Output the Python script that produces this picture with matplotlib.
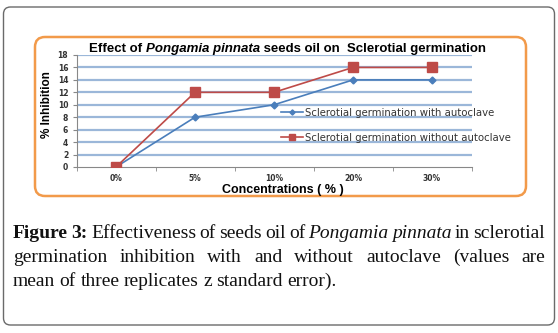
import matplotlib
matplotlib.use("Agg")
import matplotlib.pyplot as plt
from matplotlib.patches import FancyBboxPatch
from matplotlib.transforms import IdentityTransform

W, H = 558, 333

# --- data ---
concentrations = ["0%", "5%", "10%", "20%", "30%"]
with_autoclave = [0, 8, 10, 14, 14]
without_autoclave = [0, 12, 12, 16, 16]
y_ticks = [0, 2, 4, 6, 8, 10, 12, 14, 16, 18]

series_labels = ["Sclerotial germination with autoclave",
                 "Sclerotial germination without autoclave"]

title_parts = [("Effect of ", "normal"), ("Pongamia pinnata", "italic"),
               (" seeds oil on  Sclerotial germination", "normal")]

caption_lines = [
    [("Figure", "bold"), ("3:", "bold"), ("Effectiveness", ""), ("of", ""),
     ("seeds", ""), ("oil", ""), ("of", ""), ("Pongamia", "italic"),
     ("pinnata", "italic"), ("in", ""), ("sclerotial", "")],
    [("germination", ""), ("inhibition", ""), ("with", ""), ("and", ""),
     ("without", ""), ("autoclave", ""), ("(values", ""), ("are", "")],
    [("mean", ""), ("of", ""), ("three", ""), ("replicates", ""), ("z", ""),
     ("standard", ""), ("error).", "")],
]

BLUE = "#4a7ebb"
RED = "#be4b48"
GRID = "#9bb7d9"
ORANGE = "#f29a4a"


def fx(x):
    return x / W


def fy(y):
    return 1 - y / H


fig = plt.figure(figsize=(W / 100, H / 100), dpi=100)
renderer = fig.canvas.get_renderer()

# outer grey frame and orange chart frame (pixel coords, origin bottom-left)
fig.patches.append(FancyBboxPatch((3.5, H - 325), 551, 318,
                                  boxstyle="round,pad=0,rounding_size=7",
                                  transform=IdentityTransform(), figure=fig,
                                  fc="none", ec="#6a6a6a", lw=1.0, zorder=0))
fig.patches.append(FancyBboxPatch((35, H - 196), 491, 159,
                                  boxstyle="round,pad=0,rounding_size=10",
                                  transform=IdentityTransform(), figure=fig,
                                  fc="none", ec=ORANGE, lw=1.8, zorder=0))

left, right, top, bottom = 76.5, 471.5, 55, 167
ax = fig.add_axes([fx(left), fy(bottom), fx(right) - fx(left), (bottom - top) / H])
ax.set_facecolor("none")
ax.set_zorder(2)

x = range(len(concentrations))
ax.plot(x, with_autoclave, color=BLUE, lw=1.2, marker="D", ms=3.5,
        label=series_labels[0], zorder=3)
ax.plot(x, without_autoclave, color=RED, lw=1.2, marker="s", ms=6.5,
        label=series_labels[1], zorder=4)

ax.set_xlim(-0.5, len(concentrations) - 0.5)
ax.set_ylim(0, 18)
ax.set_yticks(y_ticks)
ax.set_yticklabels([str(t) for t in y_ticks], fontsize=5.5, fontweight="bold",
                   color="#333333")
ax.set_xticks(list(x))
ax.set_xticklabels(concentrations, fontsize=5.5, fontweight="bold", color="#333333")
ax.set_xticks([i - 0.5 for i in range(len(concentrations) + 1)], minor=True)
ax.tick_params(axis="x", which="major", length=0, pad=5)
ax.tick_params(axis="x", which="minor", length=3, color="#888888")
ax.tick_params(axis="y", length=3, color="#888888", pad=3)

for t in y_ticks[1:]:
    ax.axhline(t, color=GRID, lw=1.6, zorder=1)

for s in ["top", "right"]:
    ax.spines[s].set_visible(False)
ax.spines["left"].set_color("#888888")
ax.spines["bottom"].set_color("#888888")

ax.set_xlabel("Concentrations ( % )", fontsize=9, fontweight="bold",
              family="Liberation Sans")
ax.xaxis.set_label_coords((283 - left) / (right - left), -(190 - bottom) / (bottom - top))
ax.xaxis.label.set_va("center")
ax.set_ylabel("% Inhibition", fontsize=8.5, fontweight="bold", family="Liberation Sans")
ax.yaxis.set_label_coords((47 - left) / (right - left), (bottom - 105) / (bottom - top))
ax.yaxis.label.set_va("center")

leg = ax.legend(loc="upper left", bbox_to_anchor=(fx(281), fy(108)),
                bbox_transform=fig.transFigure, frameon=False, fontsize=7.3,
                handlelength=2.2, handletextpad=0.15, labelspacing=1.45,
                markerscale=0.75, borderpad=0, borderaxespad=0)
for txt in leg.get_texts():
    txt.set_color("#333333")

# chart title, built from pieces so the species name can be bold italic
pieces = []
for txt, st in title_parts:
    t = fig.text(0, fy(49), txt, fontsize=9.5, fontweight="bold", fontstyle=st,
                 family="Liberation Sans", va="center", ha="left")
    pieces.append(t)
tw = [t.get_window_extent(renderer).width for t in pieces]
xpos = 287.5 - sum(tw) / 2
for t, wd in zip(pieces, tw):
    t.set_x(fx(xpos))
    xpos += wd

# caption, justified like the source
cap_left, cap_right = 13, 545
cap_y = [233, 257, 281]
style = {"bold": dict(fontweight="bold"), "italic": dict(fontstyle="italic"), "": {}}
for li, words in enumerate(caption_lines):
    items = []
    for w, st in words:
        t = fig.text(0, fy(cap_y[li]), w, fontsize=14, family="Liberation Serif",
                     va="center", ha="left", color="#111111", **style[st])
        items.append(t)
    widths = [t.get_window_extent(renderer).width for t in items]
    if li < len(caption_lines) - 1:
        gap = (cap_right - cap_left - sum(widths)) / (len(items) - 1)
    else:
        gap = 4.5
    xpos = cap_left
    for t, wd in zip(items, widths):
        t.set_x(fx(xpos))
        xpos += wd + gap

fig.savefig("out.png", dpi=100)
